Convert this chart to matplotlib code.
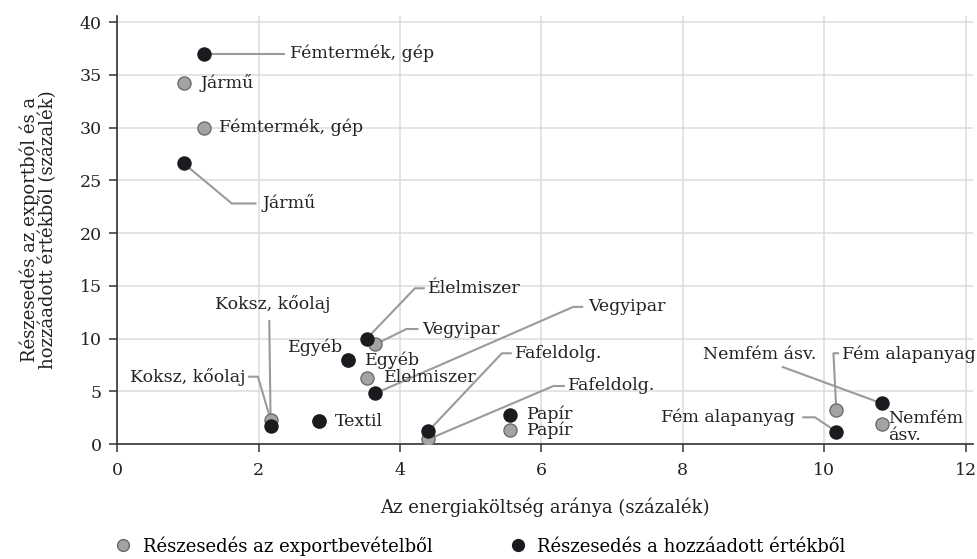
import matplotlib
matplotlib.use("Agg")
import matplotlib.pyplot as plt
from matplotlib.lines import Line2D

plt.rcParams["font.family"] = ["DejaVu Serif"]
FS = 12.5      # point labels
FS_AX = 13     # axis titles, legend

# data
sectors = ["Fémtermék, gép", "Jármű", "Koksz, kőolaj", "Textil", "Egyéb",
           "Élelmiszer", "Vegyipar", "Fafeldolg.", "Papír", "Fém alapanyag", "Nemfém ásv."]
energy_cost = [1.22, 0.94, 2.17, 2.85, 3.26, 3.53, 3.65, 4.40, 5.55, 10.17, 10.81]
export_share = [30.0, 34.2, 2.27, 2.18, 7.96, 6.28, 9.45, 0.45, 1.33, 3.22, 1.87]
value_added_share = [37.0, 26.6, 1.7, 2.18, 7.96, 10.0, 4.8, 1.23, 2.75, 1.17, 3.86]

x_ticks = [0, 2, 4, 6, 8, 10, 12]
y_ticks = [0, 5, 10, 15, 20, 25, 30, 35, 40]

GRAY = "#a3a3a3"
BLACK = "#1b1b1f"
LEADER = "#9a9a9a"

# label layout: sector -> (text x, text y, ha, leader bends from label to point)
export_labels = {
    "Fémtermék, gép": (1.44, 30.0, "left", None),
    "Jármű": (1.18, 34.2, "left", None),
    "Koksz, kőolaj": (1.81, 6.35, "right", [(1.85, 6.38), (1.99, 6.38)]),
    "Egyéb": (3.20, 9.2, "right", None),
    "Élelmiszer": (3.77, 6.28, "left", None),
    "Vegyipar": (4.31, 10.9, "left", [(4.26, 10.9), (4.09, 10.9)]),
    "Fafeldolg.": (6.38, 5.5, "left", [(6.33, 5.5), (6.17, 5.5)]),
    "Papír": (5.79, 1.26, "left", None),
    "Fém alapanyag": (10.25, 8.5, "left", [(10.21, 8.6), (10.13, 8.6)]),
    "Nemfém ásv.": (10.91, 1.64, "left", None),
}
value_labels = {
    "Fémtermék, gép": (2.45, 37.0, "left", [(2.37, 37.0)]),
    "Jármű": (2.06, 22.8, "left", [(1.97, 22.8), (1.62, 22.8)]),
    "Koksz, kőolaj": (2.2, 13.3, "center", [(2.15, 11.75)]),
    "Textil": (3.08, 2.18, "left", None),
    "Egyéb": (3.51, 7.96, "left", None),
    "Élelmiszer": (4.40, 14.76, "left", [(4.35, 14.76), (4.21, 14.76)]),
    "Vegyipar": (6.66, 13.0, "left", [(6.59, 13.0), (6.45, 13.0)]),
    "Fafeldolg.": (5.63, 8.6, "left", [(5.58, 8.6), (5.44, 8.6)]),
    "Papír": (5.79, 2.84, "left", None),
    "Fém alapanyag": (9.58, 2.53, "right", [(9.69, 2.53), (9.87, 2.53)]),
    "Nemfém ásv.": (9.89, 8.44, "right", [(9.40, 7.33)]),
}

fig = plt.figure(figsize=(9.78, 5.59), dpi=100)
ax = fig.add_axes([0.1199, 0.2057, 0.8747, 0.7662])


def draw_labels(ys, layout):
    for name, px, py in zip(sectors, energy_cost, ys):
        if name not in layout:
            continue
        tx, ty, ha, bends = layout[name]
        # the right-hand Nemfém label wraps onto two lines
        text = "Nemfém\násv." if (name == "Nemfém ásv." and ha == "left") else name
        if bends:
            xs = [b[0] for b in bends] + [px]
            yy = [b[1] for b in bends] + [py]
            ax.plot(xs, yy, color=LEADER, lw=1.5, zorder=2, solid_capstyle="butt")
        ax.text(tx, ty, text, ha=ha, va="center", fontsize=FS, color="#222222",
                linespacing=1.0, zorder=5)


draw_labels(export_share, export_labels)
draw_labels(value_added_share, value_labels)

ax.scatter(energy_cost, export_share, s=90, color=GRAY, edgecolor="#666666",
           linewidth=0.9, zorder=3)
ax.scatter(energy_cost, value_added_share, s=90, color=BLACK, edgecolor=BLACK,
           linewidth=0.9, zorder=4)

ax.set_xlim(0, 12.1)
ax.set_ylim(0, 40.6)
ax.set_xticks(x_ticks)
ax.set_yticks(y_ticks)
ax.grid(True, color="#dcdcdc", lw=1.1)
ax.set_axisbelow(True)
for side in ["top", "right"]:
    ax.spines[side].set_visible(False)
for side in ["left", "bottom"]:
    ax.spines[side].set_color("#333333")
    ax.spines[side].set_linewidth(1.2)
ax.tick_params(axis="both", length=6, width=1.1, color="#333333", labelsize=FS,
               labelcolor="#222222")
ax.tick_params(axis="x", pad=7)
ax.tick_params(axis="y", pad=5)

ax.set_xlabel("Az energiaköltség aránya (százalék)", fontsize=FS_AX, color="#222222",
              labelpad=13)
ax.set_ylabel("Részesedés az exportból és a\nhozzáadott értékből (százalék)", fontsize=FS_AX,
              color="#222222", labelpad=16, linespacing=1.0)

handles = [
    Line2D([], [], ls="", marker="o", markersize=8.5, markerfacecolor=GRAY,
           markeredgecolor="#666666", label="Részesedés az exportbevételből"),
    Line2D([], [], ls="", marker="o", markersize=8.5, markerfacecolor=BLACK,
           markeredgecolor=BLACK, label="Részesedés a hozzáadott értékből"),
]
fig.legend(handles=handles, loc="center left", bbox_to_anchor=(0.1166, 0.0233), ncol=2,
           frameon=False, fontsize=FS_AX, handlelength=1.0, handletextpad=0.6,
           columnspacing=4.2, borderpad=0.0, borderaxespad=0.0)

fig.savefig("out.png", dpi=100)
